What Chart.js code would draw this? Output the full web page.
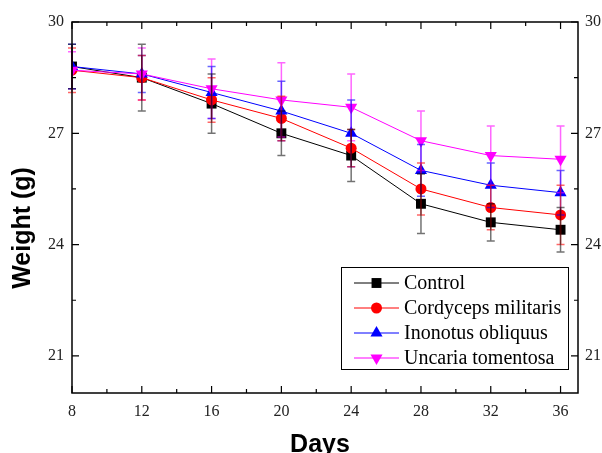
<!DOCTYPE html>
<html>
<head>
<meta charset="utf-8">
<script src="https://cdn.jsdelivr.net/npm/chart.js@4.4.1/dist/chart.umd.min.js"></script>
<style>
html,body{margin:0;padding:0;background:#fff;}
#wrap{width:602px;height:453px;position:relative;}
</style>
</head>
<body>
<div id="wrap"><canvas id="c" width="602" height="453"></canvas></div>
<script>
const days = [8, 12, 16, 20, 24, 28, 32, 36];
const control = [28.8, 28.5, 27.8, 27.0, 26.4, 25.1, 24.6, 24.4];
const controlErr = [0.6, 0.9, 0.8, 0.6, 0.7, 0.8, 0.5, 0.6];
const cordyceps = [28.7, 28.5, 27.9, 27.4, 26.6, 25.5, 25.0, 24.8];
const cordycepsErr = [0.6, 0.6, 0.6, 0.6, 0.5, 0.7, 0.6, 0.8];
const inonotus = [28.8, 28.6, 28.1, 27.6, 27.0, 26.0, 25.6, 25.4];
const inonotusErr = [0.6, 0.5, 0.7, 0.8, 0.9, 0.7, 0.6, 0.6];
const uncaria = [28.7, 28.6, 28.2, 27.9, 27.7, 26.8, 26.4, 26.3];
const uncariaErr = [0.5, 0.7, 0.8, 1.0, 0.9, 0.8, 0.8, 0.9];
const xTicks = [8, 12, 16, 20, 24, 28, 32, 36];
const xMinor = [10, 14, 18, 22, 26, 30, 34];
const yTicks = [21, 24, 27, 30];
const yMinor = [22.5, 25.5, 28.5];
const xTitle = 'Days';
const yTitle = 'Weight (g)';

function pts(vals){ return days.map((d,i)=>({x:d, y:vals[i]})); }

const serif = "'Liberation Serif','Times New Roman',serif";
const sans = "'Liberation Sans',Arial,sans-serif";

const datasets = [
  {label:'Control', data:pts(control), err:controlErr, borderColor:'#000000', backgroundColor:'#000000', errColor:'rgba(0,0,0,0.55)', pointStyle:'rect', pointRadius:7, pointRotation:0, order:4},
  {label:'Cordyceps militaris', data:pts(cordyceps), err:cordycepsErr, borderColor:'#ff0000', backgroundColor:'#ff0000', errColor:'rgba(255,0,0,0.6)', pointStyle:'circle', pointRadius:5.5, pointRotation:0, order:3},
  {label:'Inonotus obliquus', data:pts(inonotus), err:inonotusErr, borderColor:'#0000ff', backgroundColor:'#0000ff', errColor:'rgba(0,0,255,0.6)', pointStyle:'triangle', pointRadius:7, pointRotation:0, order:2},
  {label:'Uncaria tomentosa', data:pts(uncaria), err:uncariaErr, borderColor:'#ff00ff', backgroundColor:'#ff00ff', errColor:'rgba(255,0,255,0.6)', pointStyle:'triangle', pointRadius:7, pointRotation:180, order:1}
];
datasets.forEach(d=>{ d.borderWidth=1; d.pointBorderWidth=0; d.pointHoverRadius=d.pointRadius; d.fill=false; d.tension=0; });

const errorBars = {
  id:'errorBars',
  afterDatasetsDraw(chart){
    const ctx = chart.ctx, xs = chart.scales.x, ys = chart.scales.y;
    ctx.save();
    [...chart.data.datasets].reverse().forEach(ds=>{
      ctx.strokeStyle = ds.errColor; ctx.lineWidth = 1.5;
      ds.data.forEach((p,i)=>{
        const e = ds.err[i];
        const px = xs.getPixelForValue(p.x);
        const top = ys.getPixelForValue(p.y + e), bot = ys.getPixelForValue(p.y - e);
        ctx.beginPath();
        ctx.moveTo(px, top); ctx.lineTo(px, bot);
        ctx.moveTo(px-4, top); ctx.lineTo(px+4, top);
        ctx.moveTo(px-4, bot); ctx.lineTo(px+4, bot);
        ctx.stroke();
      });
    });
    ctx.restore();
  }
};

const frame = {
  id:'frame',
  afterDraw(chart){
    const ctx = chart.ctx, a = chart.chartArea, xs = chart.scales.x, ys = chart.scales.y;
    ctx.save();
    ctx.strokeStyle = '#000'; ctx.lineWidth = 1.5;
    ctx.strokeRect(a.left, a.top, a.right-a.left, a.bottom-a.top);
    ctx.lineWidth = 1.2;
    ctx.beginPath();
    const tk = (list, len)=>{
      list.forEach(v=>{
        const px = xs.getPixelForValue(v);
        ctx.moveTo(px, a.bottom); ctx.lineTo(px, a.bottom-len);
        ctx.moveTo(px, a.top); ctx.lineTo(px, a.top+len);
      });
    };
    tk(xTicks, 7); tk(xMinor, 4);
    const tky = (list, len)=>{
      list.forEach(v=>{
        const py = ys.getPixelForValue(v);
        ctx.moveTo(a.left, py); ctx.lineTo(a.left+len, py);
        ctx.moveTo(a.right, py); ctx.lineTo(a.right-len, py);
      });
    };
    tky(yTicks, 7); tky(yMinor, 4);
    ctx.stroke();

    // axis titles
    ctx.fillStyle = '#000';
    ctx.font = "bold 25px " + sans;
    ctx.textAlign = 'center'; ctx.textBaseline = 'middle';
    ctx.fillText(xTitle, 320, 445);
    ctx.save();
    ctx.translate(23, 228);
    ctx.rotate(-Math.PI/2);
    ctx.fillText(yTitle, 0, 0);
    ctx.restore();

    // legend
    const bx = 341, by = 267, bw = 227, bh = 102;
    ctx.fillStyle = '#fff';
    ctx.fillRect(bx, by, bw, bh);
    ctx.strokeStyle = '#000'; ctx.lineWidth = 1;
    ctx.strokeRect(bx+0.5, by+0.5, bw, bh);
    const rows = [283, 308, 333, 358];
    chart.data.datasets.forEach((ds, i)=>{
      const yy = rows[i];
      ctx.strokeStyle = ds.borderColor; ctx.lineWidth = 1;
      ctx.beginPath(); ctx.moveTo(354, yy); ctx.lineTo(399, yy); ctx.stroke();
      ctx.fillStyle = ds.backgroundColor;
      Chart.helpers.drawPoint(ctx, {pointStyle: ds.pointStyle, radius: ds.pointRadius, rotation: ds.pointRotation, borderWidth: 0}, 376.5, yy);
      ctx.fillStyle = '#000';
      ctx.font = "20px " + serif;
      ctx.textAlign = 'left'; ctx.textBaseline = 'middle';
      ctx.fillText(ds.label, 404, yy+1);
    });
    ctx.restore();
  }
};

new Chart(document.getElementById('c'), {
  type:'line',
  data:{datasets},
  plugins:[errorBars, frame],
  options:{
    responsive:false,
    animation:false,
    events:[],
    layout:{padding:{top:22, left:0, right:0, bottom:0}},
    plugins:{legend:{display:false}, tooltip:{enabled:false}},
    scales:{
      x:{
        type:'linear', position:'bottom', min:8, max:37,
        afterBuildTicks(s){ s.ticks = xTicks.map(v=>({value:v})); },
        afterFit(s){ s.height = 60; },
        grid:{display:false, drawTicks:false}, border:{display:false},
        ticks:{font:{family:serif, size:16}, color:'#222', padding:9, maxRotation:0, autoSkip:false}
      },
      y:{
        type:'linear', position:'left', min:20, max:30,
        afterBuildTicks(s){ s.ticks = yTicks.map(v=>({value:v})); },
        afterFit(s){ s.width = 72; },
        grid:{display:false, drawTicks:false}, border:{display:false},
        ticks:{font:{family:serif, size:16}, color:'#222', padding:8, autoSkip:false}
      },
      y2:{
        type:'linear', position:'right', min:20, max:30,
        afterBuildTicks(s){ s.ticks = yTicks.map(v=>({value:v})); },
        afterFit(s){ s.width = 24; },
        grid:{display:false, drawTicks:false}, border:{display:false},
        ticks:{font:{family:serif, size:16}, color:'#222', padding:7, autoSkip:false}
      }
    }
  }
});
</script>
</body>
</html>
